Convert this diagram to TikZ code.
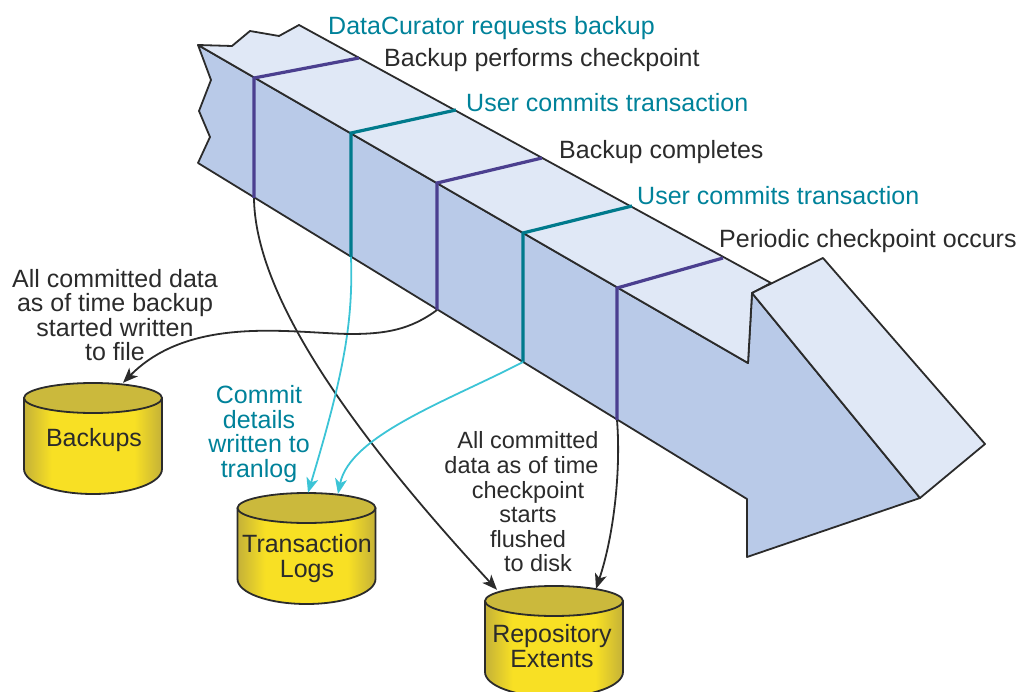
\documentclass[tikz,border=0pt]{standalone}
\usepackage{fontspec}
\setmainfont{Liberation Sans}
\usetikzlibrary{calc,arrows.meta}
\definecolor{topface}{HTML}{E0E8F6}
\definecolor{frontface}{HTML}{B9CAE8}
\definecolor{markpurple}{HTML}{4B3F8F}
\definecolor{markteal}{HTML}{007A8C}
\definecolor{labelteal}{HTML}{00829A}
\definecolor{linkcyan}{HTML}{3CC4D6}
\definecolor{inkgrey}{HTML}{2B2B2B}
\definecolor{drumdark}{HTML}{C4B138}
\definecolor{drumlight}{HTML}{F8E024}
\definecolor{drumlid}{HTML}{CBB93C}
\pgfdeclarehorizontalshading{drumshade}{100bp}{color(0bp)=(drumdark); color(25bp)=(drumdark); color(35bp)=(drumlight); color(65bp)=(drumlight); color(75bp)=(drumdark); color(100bp)=(drumdark)}
\tikzset{
	outline/.style={draw=inkgrey,line width=1.8pt,line join=round},
	mark line/.style={line width=3.2pt},
	link/.style={line width=1.8pt,-{Stealth[length=15pt,width=12pt,inset=4pt]}},
	event/.style={anchor=base west,inner sep=0pt},
	note/.style={align=center,inner sep=0pt},
	drumbox/.style={minimum width=138pt,minimum height=110pt,inner sep=0pt}
}
% name, centre x, top y
\newcommand{\dbdrum}[3]{
	\path[outline,shading=drumshade] (#2-69,#3+15) -- (#2-69,#3+86) arc[start angle=180,end angle=360,x radius=69pt,y radius=25pt] -- (#2+69,#3+15) -- cycle;
	\path[outline,fill=drumlid] (#2,#3+15) ellipse[x radius=69pt,y radius=15pt];
	\node (#1) [drumbox] at (#2,#3+55) {};
}
\begin{document}
\begin{tikzpicture}[x=1pt,y=-1pt,font=\fontsize{25}{24.6}\selectfont,text=inkgrey]
	\useasboundingbox (0,0) rectangle (1016,692);
	% the big arrow
	\path[outline,fill=frontface] (198,45) -- (211,80) -- (199,111) -- (210,137) -- (198,163) -- (747,499) -- (747,557) -- (920,498) -- (752,293) -- (748,363) -- cycle;
	\path[outline,fill=topface] (198,45) -- (232,46) -- (250,31) -- (279,36) -- (299,25) -- (771,283) -- (752,293) -- (748,363) -- cycle;
	\path[outline,fill=topface] (752,293) -- (823,258) -- (985,444) -- (920,498) -- cycle;
	% time marks
	\coordinate (backupstart) at (254,198);
	\coordinate (commitone) at (351,257);
	\coordinate (backupend) at (437,310);
	\coordinate (committwo) at (523,362);
	\coordinate (checkpoint) at (617,420);
	\draw[mark line,markpurple] (359,58) -- (254,78) -- (backupstart);
	\draw[mark line,markteal] (456,110) -- (351,133) -- (commitone);
	\draw[mark line,markpurple] (542,158) -- (437,183) -- (backupend);
	\draw[mark line,markteal] (632,206) -- (523,233) -- (committwo);
	\draw[mark line,markpurple] (723,258) -- (617,288) -- (checkpoint);
	% stores
	\dbdrum{backups}{93}{383}
	\dbdrum{tranlogs}{306.5}{493}
	\dbdrum{extents}{554}{586}
	\node (backupstext) [note] at (94,440) {Backups};
	\node (tranlogstext) [note] at (307,558.5) {Transaction\\[1pt]Logs};
	\node (extentstext) [note] at (552,646) {Repository\\Extents};
	% events along the arrow
	\node (requested) [event,text=labelteal] at (328,35) {DataCurator requests backup};
	\node (performs) [event] at (384,67) {Backup performs checkpoint};
	\node (commitfirst) [event,text=labelteal] at (466,112) {User commits transaction};
	\node (completes) [event] at (559,159) {Backup completes};
	\node (commitsecond) [event,text=labelteal] at (637,205) {User commits transaction};
	\node (periodic) [event] at (719,248) {Periodic checkpoint occurs};
	% notes
	\node (writtennote) [note] at (115,315) {All committed data\\as of time backup\\started written\\to file};
	\node (commitnote) [note,text=labelteal] at (259,434) {Commit\\details\\written to\\tranlog};
	\node (flushednote) [note,font=\fontsize{23.5}{24.6}\selectfont] at (528,502) {All committed\\data as of time\kern13pt\\checkpoint\\starts\\flushed\\\hspace*{20pt}to disk};
	% links
	\draw[link,inkgrey] (backupstart) .. controls (255,290) and (340,420) .. ($(extents.north)+(-57,4)$);
	\draw[link,linkcyan] (commitone) .. controls (353,320) and (345,370) .. ($(tranlogs.north)+(1.5,0)$);
	\draw[link,linkcyan] (committwo) .. controls (450,400) and (350,435) .. ($(tranlogs.north)+(31.5,1)$);
	\draw[link,inkgrey] (backupend) .. controls (410,330) and (385,334) .. (350,334) .. controls (290,333) and (190,315) .. ($(backups.north)+(30,0)$);
	\draw[link,inkgrey] (checkpoint) .. controls (621,470) and (614,535) .. ($(extents.north)+(42,3)$);
\end{tikzpicture}
\end{document}
